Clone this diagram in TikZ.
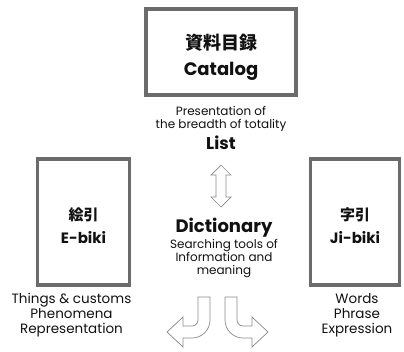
\documentclass[tikz,border=0pt]{standalone}
\usepackage{fontspec}
\setmainfont{Poppins}
\newfontfamily\jpfont{Noto Sans CJK JP}
\definecolor{boxgray}{HTML}{6B6B6B}
\definecolor{arrgray}{HTML}{8A8A8A}
\definecolor{txt}{HTML}{111111}
\tikzset{
  bigbox/.style={draw=boxgray, line width=3.5pt, fill=white, inner sep=0pt},
  cattext/.style={align=center, font=\fontsize{18}{26}\selectfont\bfseries, text=txt},
  boxtext/.style={align=center, font=\fontsize{15}{23}\selectfont\bfseries, text=txt},
  smalltext/.style={align=center, font=\fontsize{12}{13}\selectfont, text=txt},
  sidetext/.style={align=center, font=\fontsize{13.5}{15}\selectfont, text=txt},
  titletext/.style={align=center, font=\fontsize{17}{20}\selectfont\bfseries, text=txt},
  dicttext/.style={align=center, font=\fontsize{18}{20}\selectfont\bfseries, text=txt},
  hollowarrow/.style={draw=arrgray, line width=0.7pt, fill=white, line join=miter}
}
\begin{document}
\begin{tikzpicture}[x=1pt,y=-1pt]
\useasboundingbox (0,0) rectangle (404,351);
% boxes
\node[bigbox, minimum width=150pt, minimum height=86pt] (catbox) at (221,52) {};
\node[cattext] (cat) at (221,57) {{\jpfont 資料目録}\\Catalog};
\node[bigbox, minimum width=92pt, minimum height=126pt] (ebox) at (83.5,222) {};
\node[boxtext] (etext) at (83.5,225.5) {{\jpfont 絵引}\\E-biki};
\node[bigbox, minimum width=89pt, minimum height=126pt] (jbox) at (355,222) {};
\node[boxtext] (jtext) at (355,225.5) {{\jpfont 字引}\\Ji-biki};
% list
\node[smalltext] (pres) at (221,119) {Presentation of\\the breadth of totality};
\node[titletext] (list) at (221,143) {List};
% dictionary
\node[dicttext] (dict) at (224,228) {Dictionary};
\node[smalltext] (search) at (224,259) {Searching tools of\\Information and\\meaning};
% side texts
\node[sidetext] (things) at (71.5,315) {Things \& customs\\Phenomena\\Representation};
\node[sidetext] (words) at (357,315) {Words\\Phrase\\Expression};
% double arrow
\draw[hollowarrow] (221,165) -- (231,175) -- (226,175) -- (226,197) -- (231,197)
  -- (221,207) -- (211,197) -- (216,197) -- (216,175) -- (211,175) -- cycle;
% curved arrows
\draw[hollowarrow] (210,297) -- (210,320) arc[start angle=0,end angle=90,radius=18]
  -- (183,338) -- (183,347) -- (167,332) -- (183,317) -- (183,326) -- (192,326)
  arc[start angle=90,end angle=0,radius=6] -- (198,297) -- cycle;
\begin{scope}[shift={(435,0)}, xscale=-1]
\draw[hollowarrow] (210,297) -- (210,320) arc[start angle=0,end angle=90,radius=18]
  -- (183,338) -- (183,347) -- (167,332) -- (183,317) -- (183,326) -- (192,326)
  arc[start angle=90,end angle=0,radius=6] -- (198,297) -- cycle;
\end{scope}
\end{tikzpicture}
\end{document}
